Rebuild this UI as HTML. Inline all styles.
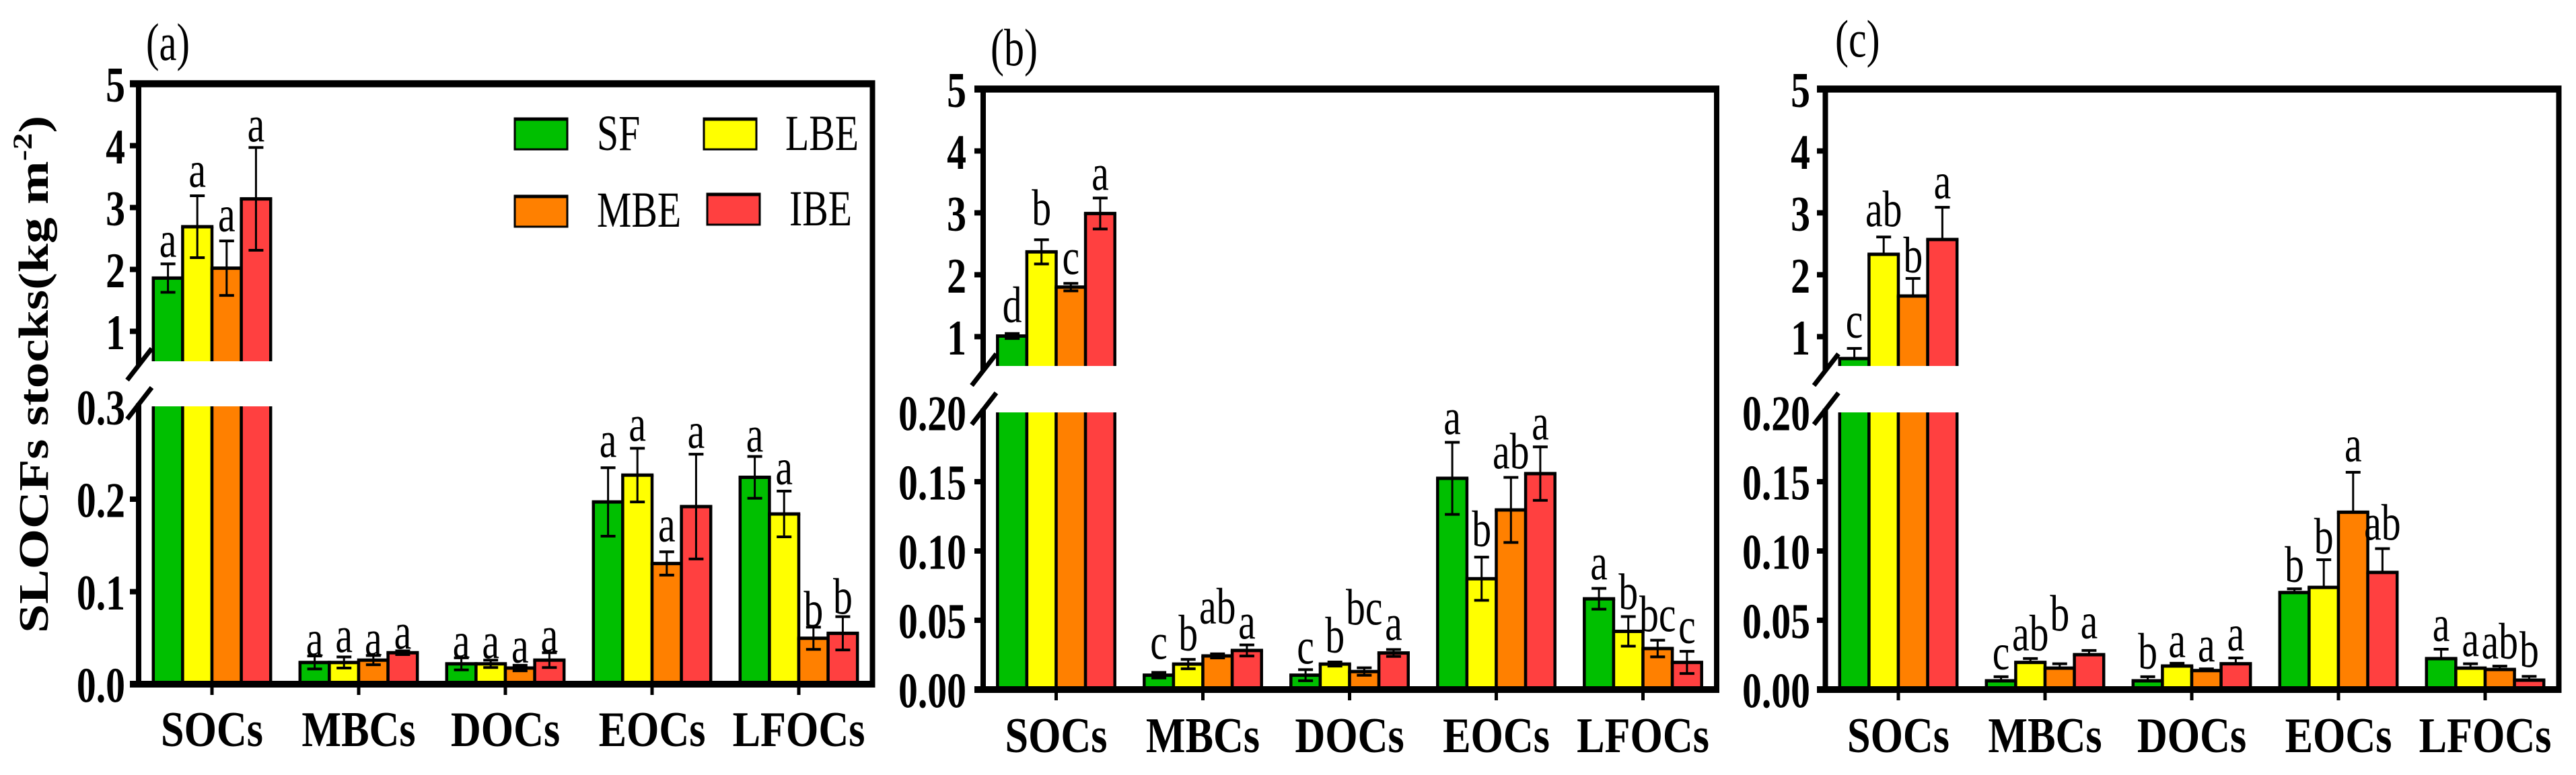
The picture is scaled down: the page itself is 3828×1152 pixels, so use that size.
<!DOCTYPE html>
<html lang="en">
<head>
<meta charset="utf-8">
<title>SLOCFs stocks</title>
<style>
html,body{margin:0;padding:0;background:#fff;}
svg{display:block;}
text{font-family:"Liberation Serif",serif;fill:#000;}
</style>
</head>
<body>
<svg id="chart" xmlns="http://www.w3.org/2000/svg" width="3828" height="1152" viewBox="0 0 3828 1152">
<rect x="0" y="0" width="3828" height="1152" fill="#ffffff"/>
<text transform="translate(71,941) rotate(-90) scale(1.25,1)" font-size="62" font-weight="bold">SLOCFs stocks(kg m<tspan font-size="40" dy="-24">-2</tspan><tspan dy="24">)</tspan></text>
</svg>
<script>
const categories = ['SOCs','MBCs','DOCs','EOCs','LFOCs'];
const seriesNames = ['SF','LBE','MBE','IBE'];
const seriesColors = ['#00BF00','#FFFF00','#FF8000','#FF4040'];
const upperTicks = [1,2,3,4,5];
const lowerTicksA = ['0.0','0.1','0.2','0.3'];
const lowerTicksB = ['0.00','0.05','0.10','0.15','0.20'];
const lowerTicksC = ['0.00','0.05','0.10','0.15','0.20'];

const valuesA = [[1.86,2.69,2.02,3.14],[0.0235,0.0235,0.026,0.034],[0.022,0.022,0.0175,0.026],[0.197,0.226,0.1305,0.192],[0.2236,0.184,0.0496,0.055]];
const errorsA = [[0.23,0.5,0.44,0.83],[0.007,0.006,0.005,0.002],[0.0065,0.004,0.003,0.008],[0.037,0.029,0.0126,0.0566],[0.0226,0.0247,0.012,0.018]];
const lettersA = [['a','a','a','a'],['a','a','a','a'],['a','a','a','a'],['a','a','a','a'],['a','a','b','b']];

const valuesB = [[1.01,2.37,1.8,2.99],[0.0104,0.0184,0.0243,0.0282],[0.0104,0.0184,0.013,0.0264],[0.1524,0.08,0.1296,0.1558],[0.0655,0.042,0.0296,0.0196]];
const errorsB = [[0.04,0.196,0.06,0.25],[0.002,0.0034,0.0015,0.004],[0.004,0.0015,0.0027,0.0025],[0.026,0.0156,0.0235,0.0193],[0.0075,0.0107,0.006,0.008]];
const lettersB = [['d','b','c','a'],['c','b','ab','a'],['c','b','bc','a'],['a','b','ab','a'],['a','b','bc','c']];

const valuesC = [[0.645,2.33,1.656,2.57],[0.0063,0.0196,0.0155,0.0252],[0.0063,0.017,0.0137,0.0186],[0.07,0.0737,0.128,0.0845],[0.0223,0.0155,0.0145,0.0068]];
const errorsC = [[0.165,0.28,0.285,0.52],[0.003,0.0028,0.0031,0.003],[0.003,0.002,0.0012,0.0042],[0.0027,0.02,0.0288,0.0172],[0.0068,0.0031,0.0024,0.0027]];
const lettersC = [['c','ab','b','a'],['c','ab','b','a'],['b','a','a','a'],['b','b','a','ab'],['a','a','ab','b']];

/* layout only: clearance in px between an error cap and its significance letter */
const letterClearA = [[10,13,14,9],[0,7,0,3],[0,3,4,1],[16,11,15,9],[7,10,1,4]];
const letterClearB = [[17,22,14,12],[20,13,45,9],[9,14,64,14],[12,16,13,11],[13,11,13,12]];
const letterClearC = [[16,16,9,13],[11,12,49,18],[12,9,11,11],[10,9,16,13],[12,11,11,14]];

const panelA = {id:'a',tag:'(a)',tagX:217,tagY:89,tagSx:0.75,values:valuesA,errors:errorsA,letters:lettersA,clear:letterClearA,lowerTicks:lowerTicksA,upperOnly:false,
  axisX:206,right:1296.5,top:124.5,upperUnit:92,upperBase:537,lowerTop:604,zeroY:1017,lowerUnit:1375,first:315,slashTop:518,labelRight:186,xLabelY:1109,step:218,xLeft:193};
const panelB = {id:'b',tag:'(b)',tagX:1472,tagY:97,tagSx:0.77,values:valuesB,errors:errorsB,letters:lettersB,clear:letterClearB,lowerTicks:lowerTicksB,upperOnly:false,
  axisX:1461,right:2551,top:132.4,upperUnit:92,upperBase:544,lowerTop:613,zeroY:1025,lowerUnit:2060,first:1569.5,slashTop:526,labelRight:1436,xLabelY:1118,step:218,xLeft:1448};
const panelC = {id:'c',tag:'(c)',tagX:2727,tagY:84,tagSx:0.77,values:valuesC,errors:errorsC,letters:lettersC,clear:letterClearC,lowerTicks:lowerTicksC,upperOnly:true,
  axisX:2712.5,right:3802.5,top:132.4,upperUnit:92,upperBase:544,lowerTop:613,zeroY:1025,lowerUnit:2060,first:2821,slashTop:526,labelRight:2690,xLabelY:1118,step:218,xLeft:2700};

const NS = 'http://www.w3.org/2000/svg';
const root = document.getElementById('chart');
const barW = 43.6;

function line(parent,x1,y1,x2,y2,w){
  const el = document.createElementNS(NS,'line');
  el.setAttribute('x1',x1);el.setAttribute('y1',y1);el.setAttribute('x2',x2);el.setAttribute('y2',y2);
  el.setAttribute('stroke','#000');el.setAttribute('stroke-width',w);
  parent.appendChild(el);
  return el;
}
function label(parent,str,x,y,size,sx,anchor,bold){
  const el = document.createElementNS(NS,'text');
  el.setAttribute('transform','translate('+x+','+y+') scale('+sx+',1)');
  el.setAttribute('font-size',size);
  el.setAttribute('text-anchor',anchor);
  if(bold) el.setAttribute('font-weight','bold');
  el.textContent = str;
  parent.appendChild(el);
  return el;
}
function box(parent,x,y,w,h,fill){
  const el = document.createElementNS(NS,'rect');
  el.setAttribute('x',x);el.setAttribute('y',y);el.setAttribute('width',w);el.setAttribute('height',Math.max(h,0));
  el.setAttribute('fill',fill);
  parent.appendChild(el);
  return el;
}
function group(parent){
  const el = document.createElementNS(NS,'g');
  parent.appendChild(el);
  return el;
}

function drawBar(g,x,yTop,yBase,color,closedTop){
  const b = box(g,x,yTop,barW,yBase-yTop,color);
  
  
  const l = line(g,x,yTop,x,yBase,4.5);
  
  
  const r = line(g,x+barW,yTop,x+barW,yBase,4.5);
  
  
  if(closedTop){
    const t = line(g,x-2.25,yTop,x+barW+2.25,yTop,5);
    
    
  }
}

function drawPanel(p){
  const g = group(root);
  
  

  const yUpper = v => p.top + (5 - v) * p.upperUnit;
  const yLower = v => p.zeroY - v * p.lowerUnit;
  const xBar = (c,s) => p.first + c * p.step + (s - 2) * barW;

  categories.forEach((cat,c) => {
    const yOf = c === 0 ? yUpper : yLower;
    const base = c === 0 ? p.upperBase : p.zeroY;
    const cg = group(g);
    
    
    seriesNames.forEach((s,i) => {
      const x = xBar(c,i);
      if(c === 0) drawBar(cg,x,p.lowerTop,p.zeroY,seriesColors[i],false);
      const v = p.values[c][i];
      const e = p.errors[c][i];
      drawBar(cg,x,yOf(v),base,seriesColors[i],true);
      const cx = x + barW / 2;
      const yHi = yOf(v + e);
      const yLo = p.upperOnly ? yOf(v) : Math.min(yOf(v - e),base);
      const stem = line(cg,cx,yHi,cx,yLo,3);
      
      
      const capHi = line(cg,cx-11,yHi,cx+11,yHi,4);
      
      
      if(!p.upperOnly){
        const capLo = line(cg,cx-11,yLo,cx+11,yLo,4);
        
        
      }
      const t = label(cg,p.letters[c][i],cx,yHi-p.clear[c][i],76,0.76,'middle',false);
      
      
    });
    const xc = p.first + c * p.step;
    const tick = line(g,xc,p.zeroY,xc,p.zeroY+16,5);
    
    
    const lab = label(g,cat,xc,p.xLabelY,74,0.84,'middle',true);
    
    
  });

  /* axes */
  const slashDx = 36.5, slashDy = 47;
  const upperEnd = p.slashTop + slashDy * 0.55;
  const lowerStart = p.slashTop + 58 + slashDy * 0.5;
  const leftUpper = line(g,p.axisX,p.top,p.axisX,upperEnd,8);
  
  
  const leftLower = line(g,p.axisX,lowerStart,p.axisX,p.zeroY,8);
  
  
  const rightAxis = line(g,p.right,p.top,p.right,p.zeroY,8);
  
  
  const topAxis = line(g,p.xLeft,p.top,p.right+4,p.top,10.5);
  
  
  const bottomAxis = line(g,p.xLeft,p.zeroY,p.right+4,p.zeroY,10);
  
  

  const sx1 = p.axisX + 19.5, sx2 = sx1 - slashDx;
  const breakUpper = line(g,sx1,p.slashTop,sx2,p.slashTop+slashDy,7);
  
  
  const breakLower = line(g,sx1,p.slashTop+58,sx2,p.slashTop+58+slashDy,7);
  
  

  /* y ticks */
  upperTicks.forEach(v => {
    const y = yUpper(v);
    if(v < 5){
      const tk = line(g,p.xLeft,y,p.axisX,y,8);
      
      
    }
    const t = label(g,String(v),p.labelRight,y+26.5,74,0.78,'end',true);
    
    
  });
  p.lowerTicks.forEach((s,i) => {
    const y = yLower(parseFloat(s));
    if(i > 0 && i < p.lowerTicks.length - 1){
      const tk = line(g,p.xLeft,y,p.axisX,y,8);
      
      
    }
    const t = label(g,s,p.labelRight,y+26.5,74,0.78,'end',true);
    
    
  });

  const tag = label(g,p.tag,p.tagX,p.tagY,78,p.tagSx,'start',false);
  
  
}

drawPanel(panelA);
drawPanel(panelB);
drawPanel(panelC);

/* legend */
const legendSwatchX = [765,1046,765,1051];
const legendSwatchY = [176,176,291,288];
const legendTextX = [887,1167,887,1173];
const legendTextY = [223,223,337,335];
const legend = group(root);


seriesNames.forEach((s,i) => {
  const sw = box(legend,legendSwatchX[i],legendSwatchY[i],78,46,seriesColors[i]);
  sw.setAttribute('stroke','#000');
  sw.setAttribute('stroke-width','3');
  
  
  const tb = line(legend,legendSwatchX[i]-1.5,legendSwatchY[i]+1,legendSwatchX[i]+79.5,legendSwatchY[i]+1,5);
  
  
  const t = label(legend,s,legendTextX[i],legendTextY[i],75,0.77,'start',false);
  
  
});
</script>
</body>
</html>
